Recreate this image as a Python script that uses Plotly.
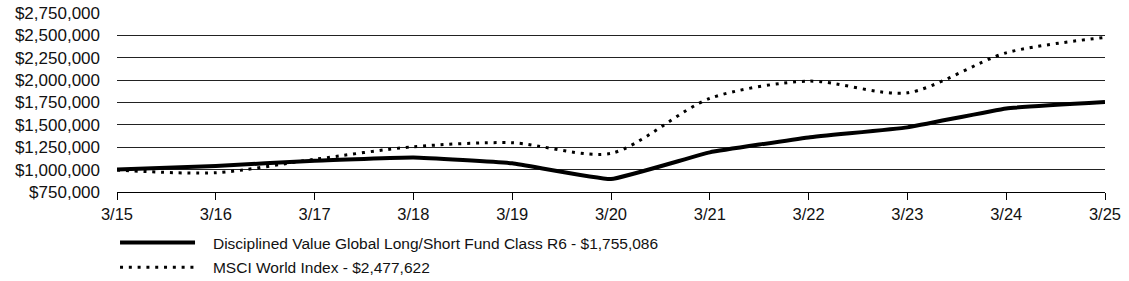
import plotly.graph_objects as go

periods = ["3/15", "3/16", "3/17", "3/18", "3/19", "3/20", "3/21", "3/22", "3/23", "3/24", "3/25"]
fund_name = "Disciplined Value Global Long/Short Fund Class R6 - $1,755,086"
fund_values = [1000000, 1040000, 1100000, 1135000, 1070000, 895000, 1193000, 1360000, 1472000, 1684000, 1755086]
index_name = "MSCI World Index - $2,477,622"
index_values = [995000, 965000, 1115000, 1256000, 1300000, 1182000, 1796000, 1989000, 1858000, 2305000, 2477622]
y_ticks = [750000, 1000000, 1250000, 1500000, 1750000, 2000000, 2250000, 2500000, 2750000]
y_tick_labels = ["$750,000", "$1,000,000", "$1,250,000", "$1,500,000", "$1,750,000",
                 "$2,000,000", "$2,250,000", "$2,500,000", "$2,750,000"]

x_idx = list(range(len(periods)))
pad = "\u00a0\u00a0\u00a0"

fig = go.Figure()
fig.add_trace(go.Scatter(x=x_idx, y=fund_values, name=pad + fund_name, mode="lines",
                         legendgroup="a",
                         line=dict(color="black", width=4, shape="spline", smoothing=0.3)))
fig.add_trace(go.Scatter(x=x_idx, y=index_values, name=pad + index_name, mode="lines",
                         legendgroup="b",
                         line=dict(color="black", width=3, dash="3px,5.8px", shape="spline", smoothing=0.8)))

label_font = "Liberation Sans, Arial, sans-serif"

fig.update_layout(
    width=1129, height=281,
    margin=dict(l=117, r=24, t=13, b=89, autoexpand=False),
    paper_bgcolor="white", plot_bgcolor="white",
    showlegend=True,
    legend=dict(x=-0.002, y=-0.19, xanchor="left", yanchor="top", orientation="v",
                font=dict(family=label_font, size=15.5, color="#111"),
                itemwidth=75, tracegroupgap=1.5, bgcolor="rgba(0,0,0,0)"),
    xaxis=dict(range=[0, 10], tickmode="array", tickvals=x_idx, ticktext=periods,
               showgrid=False, zeroline=False, showline=True, linecolor="black", linewidth=1,
               ticks="outside", ticklen=7, tickcolor="black", tickwidth=1,
               tickfont=dict(family=label_font, size=16.5, color="#111")),
    yaxis=dict(range=[750000, 2750000], tickmode="array", tickvals=y_ticks, ticktext=y_tick_labels,
               showgrid=True, gridcolor="#222", gridwidth=1, zeroline=False, showline=False,
               ticks="", ticklabelstandoff=16,
               tickfont=dict(family=label_font, size=17, color="#111")),
)

fig.write_html("out.html")
